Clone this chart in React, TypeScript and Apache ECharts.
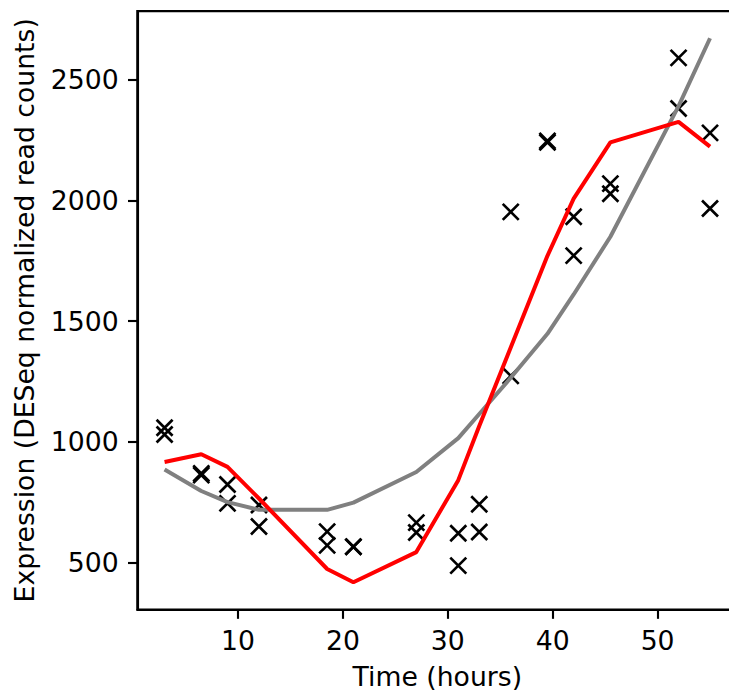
import React, { useEffect, useRef } from "react";
import * as echarts from "echarts";

// Sampling times (hours)
const times = [3, 6.5, 9, 12, 18.5, 21, 27, 31, 33, 36, 39.5, 42, 45.5, 52, 55];
// Replicate measurements (DESeq normalized read counts)
const replicate1 = [1058, 862, 823, 738, 628, 565, 665, 621, 741, 1273, 2240, 1932, 2069, 2590, 2279];
const replicate2 = [1030, 869, 745, 649, 571, 565, 624, 487, 626, 1952, 2246, 1771, 2027, 2380, 1966];
// Fitted curves
const redFit = [916, 948, 896, 765, 473, 418, 543, 841, 1065, 1390, 1770, 2007, 2240, 2325, 2222];
const grayFit = [885, 796, 750, 718, 718, 748, 875, 1015, 1115, 1265, 1447, 1610, 1849, 2390, 2671];
// Tick labels
const xTicks = [10, 20, 30, 40, 50];
const yTicks = [500, 1000, 1500, 2000, 2500];

const FONT = "DejaVu Sans";
const FS = 26.67;
const SPINE = 2.13;

export default function App() {
  const ref = useRef<HTMLDivElement>(null);
  useEffect(() => {
    if (!ref.current) return;
    const chart = echarts.init(ref.current, null, { renderer: "svg" });
    const scatterData: number[][] = [];
    times.forEach((t, i) => {
      scatterData.push([t, replicate1[i]]);
      scatterData.push([t, replicate2[i]]);
    });
    const line = (vals: number[]) => times.map((t, i) => [t, vals[i]]);
    chart.setOption({
      animation: false,
      backgroundColor: "#ffffff",
      grid: {
        left: 137.3,
        top: 11.1,
        width: 600,
        height: 602.2,
        show: true,
        borderColor: "#000",
        borderWidth: SPINE,
        backgroundColor: "transparent",
      },
      xAxis: {
        type: "value",
        min: 0.4,
        max: 57.6,
        splitLine: { show: false },
        axisLine: { show: true, lineStyle: { color: "#000", width: SPINE } },
        axisTick: {
          show: true,
          customValues: xTicks,
          length: 9.33,
          lineStyle: { color: "#000", width: SPINE },
        },
        axisLabel: {
          customValues: xTicks,
          margin: 17.5,
          fontSize: FS,
          fontFamily: FONT,
          color: "#000",
          formatter: (v: number) => String(v),
        },
        name: "Time (hours)",
        nameLocation: "middle",
        nameGap: 53.5,
        nameTextStyle: { fontSize: FS, fontFamily: FONT, color: "#000" },
      },
      yAxis: {
        type: "value",
        min: 305.3,
        max: 2783.5,
        splitLine: { show: false },
        axisLine: { show: true, lineStyle: { color: "#000", width: SPINE } },
        axisTick: {
          show: true,
          customValues: yTicks,
          length: 9.33,
          lineStyle: { color: "#000", width: SPINE },
        },
        axisLabel: {
          customValues: yTicks,
          margin: 18.7,
          fontSize: FS,
          fontFamily: FONT,
          color: "#000",
          formatter: (v: number) => String(v),
        },
        name: "Expression (DESeq normalized read counts)",
        nameLocation: "middle",
        nameGap: 99,
        nameTextStyle: { fontSize: FS, fontFamily: FONT, color: "#000" },
      },
      series: [
        {
          type: "scatter",
          data: scatterData,
          symbol: "path://M0,0 L10,10 M10,0 L0,10",
          symbolSize: 16,
          itemStyle: { color: "none", borderColor: "#000", borderWidth: 2.67, opacity: 1 },
          silent: true,
        },
        {
          type: "line",
          data: line(grayFit),
          showSymbol: false,
          lineStyle: { color: "#808080", width: 4 },
          silent: true,
        },
        {
          type: "line",
          data: line(redFit),
          showSymbol: false,
          lineStyle: { color: "#ff0000", width: 4 },
          silent: true,
        },
      ],
    });
    return () => chart.dispose();
  }, []);
  return (
    <div
      style={{
        position: "fixed",
        left: 0,
        top: 0,
        width: 729,
        height: 695,
        overflow: "hidden",
        background: "#fff",
      }}
    >
      <div ref={ref} style={{ width: 760, height: 695 }} />
    </div>
  );
}
